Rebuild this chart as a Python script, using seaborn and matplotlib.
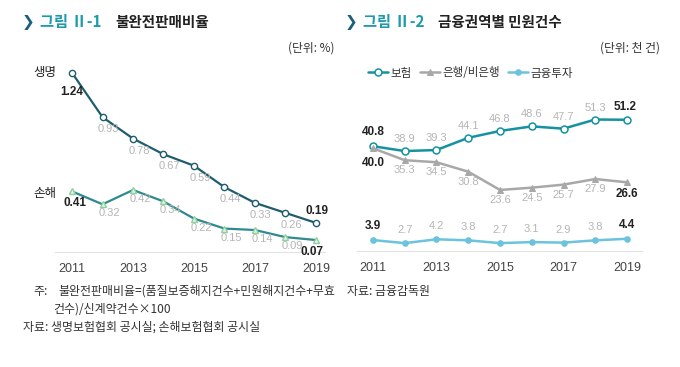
import pandas as pd
import matplotlib.pyplot as plt
import seaborn as sns

# data
years = [2011, 2012, 2013, 2014, 2015, 2016, 2017, 2018, 2019]
life = [1.24, 0.93, 0.78, 0.67, 0.59, 0.44, 0.33, 0.26, 0.19]
nonlife = [0.41, 0.32, 0.42, 0.34, 0.22, 0.15, 0.14, 0.09, 0.07]
insurance = [40.8, 38.9, 39.3, 44.1, 46.8, 48.6, 47.7, 51.3, 51.2]
bank = [40.0, 35.3, 34.5, 30.8, 23.6, 24.5, 25.7, 27.9, 26.6]
invest = [3.9, 2.7, 4.2, 3.8, 2.7, 3.1, 2.9, 3.8, 4.4]
tick_years = [2011, 2013, 2015, 2017, 2019]
right_names = ['보험', '은행/비은행', '금융투자']

sns.set_style('white')
plt.rcParams['font.family'] = ['Noto Sans CJK KR', 'DejaVu Sans']
NUM = ['Liberation Sans', 'DejaVu Sans']

W, H = 680, 367
fig = plt.figure(figsize=(W / 100, H / 100), dpi=100)


def box(x0, y_top, x1, y_bot):
    return [x0 / W, 1 - y_bot / H, (x1 - x0) / W, (y_bot - y_top) / H]


def style_axis(ax):
    for s in ['top', 'right', 'left']:
        ax.spines[s].set_visible(False)
    ax.spines['bottom'].set_color('#e2e2e2')
    ax.set_yticks([])
    ax.set_xticks(tick_years)
    ax.set_xticklabels([str(y) for y in tick_years], fontsize=9, color='#444444', family=NUM)
    ax.tick_params(axis='x', length=0, pad=8)
    ax.set_xlabel('')
    ax.set_ylabel('')
    ax.set_facecolor('none')


def labels(ax, xs, ys, fmt, dx, dy, first=None, last=None, gray='#b5b5b5'):
    n = len(xs)
    for i, (x, y) in enumerate(zip(xs, ys)):
        ox, oy = dx, dy
        bold = i == 0 or i == n - 1
        if i == 0 and first is not None:
            ox, oy = first
        if i == n - 1 and last is not None:
            ox, oy = last
        ax.annotate(fmt.format(y), (x, y), xytext=(ox, oy), textcoords='offset pixels',
                    ha='center', va='center', fontsize=8.5 if bold else 8,
                    fontweight='bold' if bold else 'normal',
                    color='#222222' if bold else gray, family=NUM, zorder=5)


# ---- left chart
ax1 = fig.add_axes(box(55, 60, 325, 252))
sns.lineplot(x=years, y=life, ax=ax1, color='#1f5d6e', lw=1.6, marker='o', ms=4.5,
             markerfacecolor='white', markeredgecolor='#1f5d6e', markeredgewidth=1)
sns.lineplot(x=years, y=nonlife, ax=ax1, color='#2f8a90', lw=1.6, marker='^', ms=5,
             markerfacecolor='#e2f3e4', markeredgecolor='#8fd0a0', markeredgewidth=1)
ax1.set_xlim(2010.44, 2019.3)
ax1.set_ylim(-0.014, 1.33)
style_axis(ax1)
labels(ax1, years, life, '{:.2f}', 6, -12, first=(0, -19), last=(1, 12))
labels(ax1, years, nonlife, '{:.2f}', 7, -9, first=(3, -12), last=(-4, -12))
ax1.annotate('생명', (years[0], life[0]), xytext=(-16, 0), textcoords='offset pixels',
             ha='right', va='center', fontsize=9, color='#222222')
ax1.annotate('손해', (years[0], nonlife[0]), xytext=(-16, -2), textcoords='offset pixels',
             ha='right', va='center', fontsize=9, color='#222222')

# ---- right chart
ax2 = fig.add_axes(box(357, 60, 642, 251))
colors = ['#15929f', '#a8a8a8', '#6cc3dd']
sns.lineplot(x=years, y=insurance, ax=ax2, color=colors[0], lw=1.8, marker='o', ms=5,
             markerfacecolor='white', markeredgecolor=colors[0], markeredgewidth=1.1,
             label=right_names[0])
sns.lineplot(x=years, y=bank, ax=ax2, color=colors[1], lw=1.8, marker='^', ms=4.5,
             markerfacecolor=colors[1], markeredgecolor=colors[1], label=right_names[1])
sns.lineplot(x=years, y=invest, ax=ax2, color=colors[2], lw=1.8, marker='o', ms=4,
             markerfacecolor=colors[2], markeredgecolor=colors[2], label=right_names[2])
ax2.set_xlim(2010.5, 2019.47)
ax2.set_ylim(-0.4, 74.7)
style_axis(ax2)
labels(ax2, years, insurance, '{:.1f}', 0, 12, first=(0, 14), last=(-2, 13))
labels(ax2, years, bank, '{:.1f}', 0, -10, first=(0, -15), last=(0, -12))
labels(ax2, years, invest, '{:.1f}', 0, 13, first=(0, 14), last=(0, 14))
ax2.legend(loc='center left', bbox_to_anchor=(358 / W, 1 - 73 / H),
           bbox_transform=fig.transFigure, ncol=3, frameon=False, fontsize=8.3,
           handlelength=1.7, handletextpad=0.25, columnspacing=0.7, labelcolor='#333333')

# ---- titles and notes
def title(x0, num, text):
    fig.text(x0 / W, 1 - 22 / H, '❯', fontsize=11, color='#1b5f7c', fontweight='bold',
             va='center', family=['DejaVu Sans'])
    fig.text((x0 + 18) / W, 1 - 22 / H, '그림 ' + num, fontsize=11, color='#1c9bab',
             fontweight='bold', va='center')
    fig.text((x0 + 93) / W, 1 - 22 / H, text, fontsize=10.5, color='#222222',
             fontweight='bold', va='center')


title(22, 'Ⅱ-1', '불완전판매비율')
title(345, 'Ⅱ-2', '금융권역별 민원건수')
fig.text(335 / W, 1 - 48 / H, '(단위: %)', fontsize=8.5, color='#333333', ha='right', va='center')
fig.text(660 / W, 1 - 48 / H, '(단위: 천 건)', fontsize=8.5, color='#333333', ha='right', va='center')

note = dict(fontsize=8.6, color='#333333', va='center')
fig.text(33 / W, 1 - 291 / H, '주:', **note)
fig.text(58 / W, 1 - 291 / H, '불완전판매비율=(품질보증해지건수+민원해지건수+무효', **note)
fig.text(53 / W, 1 - 309 / H, '건수)/신계약건수×100', **note)
fig.text(23 / W, 1 - 327 / H, '자료: 생명보험협회 공시실; 손해보험협회 공시실', **note)
fig.text(347 / W, 1 - 291 / H, '자료: 금융감독원', **note)

fig.savefig('out.png', dpi=100, facecolor='white')
